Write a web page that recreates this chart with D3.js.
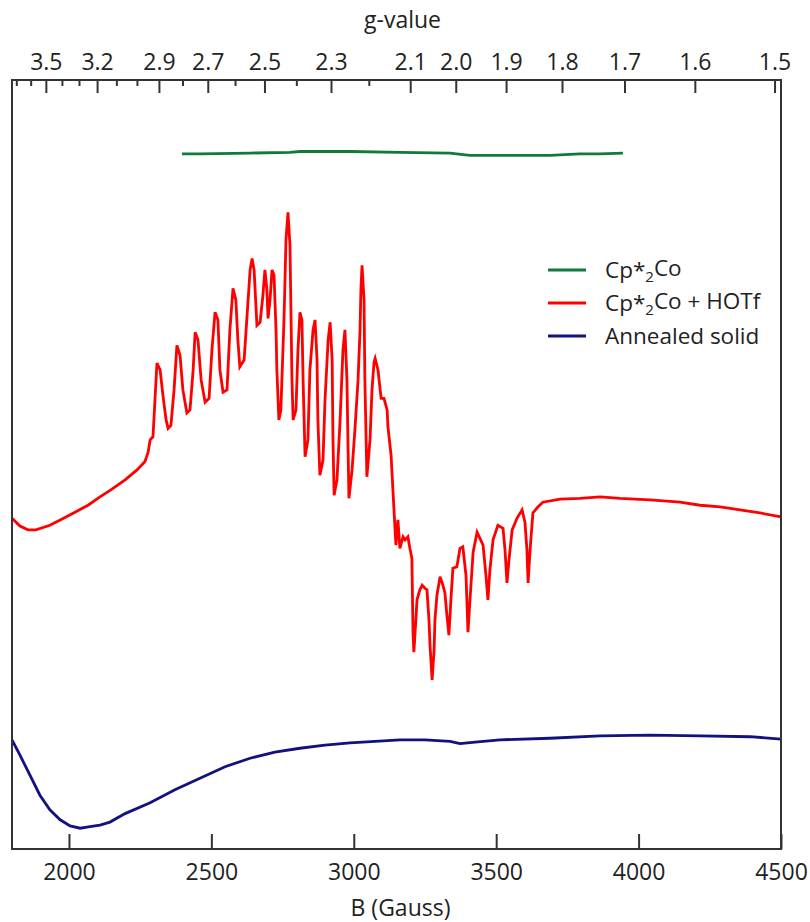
<!DOCTYPE html>
<html>
<head>
<meta charset="utf-8">
<script src="https://cdn.jsdelivr.net/npm/d3@7"></script>
<style>
    body { margin: 0; background: #fff; }
    text { font-family: "Open Sans", "Noto Sans", sans-serif; fill: #222; }
</style>
</head>
<body>
<svg id="chart" width="810" height="922"></svg>
<script>
// field in Gauss, intensity in arbitrary units (0..1000)
const fieldRange = [1800, 4500];
const bTicks = [2000, 2500, 3000, 3500, 4000, 4500];

// g = h*nu / (muB * B), X-band ~9.40 GHz -> g*B ~ 6716 G
const gTimesB = 6716;
const gMajor = [3.5, 3.2, 2.9, 2.7, 2.5, 2.3, 2.1, 2.0, 1.9, 1.8, 1.7, 1.6, 1.5];
const gMinor = [3.7, 3.6, 3.4, 3.3, 3.1, 3.0, 2.8, 2.6, 2.4, 2.2];

const seriesNames = ["Cp*₂Co", "Cp*₂Co + HOTf", "Annealed solid"];

const cpCoField = [2397, 2460, 2636, 2776, 2811, 2987, 3162, 3338, 3408, 3513, 3689, 3794, 3865, 3945];
const cpCoSignal = [904, 904, 905, 906, 907, 907, 906, 905, 902, 902, 902, 904, 904, 905];

const hotfField = [
    1800, 1828, 1856, 1884, 1933, 1976, 2021, 2067, 2109, 2151, 2197, 2239, 2267, 2278, 2285, 2295,
    2302, 2309, 2320, 2330, 2341, 2348, 2358, 2369, 2379, 2390, 2400, 2414, 2425, 2436, 2443, 2453,
    2464, 2478, 2492, 2502, 2513, 2523, 2530, 2541, 2555, 2565, 2576, 2586, 2593, 2600, 2615, 2629,
    2636, 2643, 2650, 2660, 2671, 2681, 2688, 2695, 2699, 2706, 2713, 2720, 2727, 2730, 2737, 2744,
    2755, 2762, 2769, 2776, 2783, 2787, 2797, 2804, 2811, 2818, 2822, 2829, 2839, 2846, 2857, 2864,
    2871, 2874, 2881, 2892, 2899, 2910, 2917, 2924, 2927, 2931, 2941, 2952, 2962, 2969, 2976, 2980,
    2983, 2994, 3004, 3015, 3022, 3025, 3029, 3036, 3039, 3046, 3057, 3064, 3071, 3075, 3085, 3096,
    3106, 3117, 3120, 3131, 3138, 3145, 3148, 3155, 3162, 3173, 3180, 3190, 3197, 3204, 3208, 3211,
    3218, 3222, 3232, 3240, 3250, 3257, 3264, 3268, 3275, 3282, 3285, 3292, 3303, 3313, 3320, 3327,
    3334, 3341, 3348, 3362, 3373, 3383, 3394, 3401, 3408, 3419, 3433, 3443, 3454, 3464, 3471, 3478,
    3489, 3506, 3524, 3531, 3538, 3545, 3556, 3573, 3591, 3601, 3608, 3612, 3619, 3629, 3647, 3664,
    3724, 3794, 3865, 3935, 4040, 4145, 4216, 4286, 4356, 4426, 4500
];
const hotfSignal = [
    430, 420, 415, 415, 421, 429, 438, 447, 458, 468, 480, 493, 504, 516, 532, 536,
    584, 632, 623, 590, 558, 547, 551, 597, 655, 642, 597, 567, 571, 623, 672, 662,
    610, 581, 586, 649, 698, 688, 623, 594, 597, 675, 729, 714, 662, 627, 636, 714,
    753, 768, 753, 681, 685, 720, 753, 727, 690, 714, 753, 746, 675, 623, 558, 571,
    688, 792, 828, 785, 610, 558, 571, 649, 698, 688, 610, 510, 532, 623, 675, 688,
    636, 558, 486, 506, 584, 662, 685, 636, 532, 460, 480, 558, 649, 675, 610, 519,
    456, 493, 545, 610, 675, 727, 759, 714, 610, 484, 532, 597, 633, 638, 623, 586,
    586, 571, 549, 512, 463, 415, 395, 428, 391, 406, 402, 406, 391, 378, 281, 256,
    298, 324, 337, 343, 339, 337, 298, 263, 220, 259, 298, 330, 354, 343, 333, 304,
    278, 324, 365, 367, 391, 393, 356, 282, 324, 386, 412, 404, 395, 356, 324, 363,
    402, 421, 417, 389, 346, 376, 415, 430, 441, 425, 389, 346, 389, 437, 445, 451,
    455, 456, 458, 456, 454, 451, 447, 445, 441, 437, 432
];

const annealedField = [
    1800, 1828, 1863, 1898, 1933, 1969, 2004, 2039, 2074, 2109, 2144, 2197, 2285, 2372, 2460, 2548,
    2636, 2723, 2811, 2899, 2987, 3075, 3162, 3250, 3338, 3373, 3426, 3513, 3689, 3865, 4040, 4216,
    4391, 4500
];
const annealedSignal = [
    142, 122, 96, 70, 51, 38, 30, 27, 29, 31, 35, 46, 60, 77, 92, 107,
    118, 126, 131, 135, 138, 140, 142, 142, 140, 137, 139, 142, 144, 147, 148, 147,
    146, 143
];

const seriesColors = ["#0e7a3c", "#ff0000", "#12127f"];

const margin = {top: 80, right: 29, bottom: 73, left: 12};
const width = 810 - margin.left - margin.right;
const height = 922 - margin.top - margin.bottom;

const svg = d3.select("#chart");
const plot = svg.append("g").attr("transform", `translate(${margin.left},${margin.top})`);

const x = d3.scaleLinear().domain(fieldRange).range([0, width]);
const y = d3.scaleLinear().domain([0, 1000]).range([height, 0]);

function zipSeries(fields, signals) {
    return fields.map((b, i) => ({b: b, v: signals[i]}));
}

const series = [
    zipSeries(cpCoField, cpCoSignal),
    zipSeries(hotfField, hotfSignal),
    zipSeries(annealedField, annealedSignal)
];

const line = d3.line().x(d => x(d.b)).y(d => y(d.v));

plot.selectAll("path.trace").data(series).join("path")
    .attr("class", "trace")
    .attr("d", line)
    .attr("fill", "none")
    .attr("stroke", (d, i) => seriesColors[i])
    .attr("stroke-width", 2.8)
    .attr("stroke-linejoin", "miter");

/**
 * axes
 */
function styleAxis(g) {
    g.select(".domain").remove();
    g.selectAll(".tick line").attr("stroke", "#333").attr("stroke-width", 2);
    g.selectAll(".tick text").style("font-size", "23px").attr("fill", "#222");
}

plot.append("g")
    .attr("transform", `translate(0,${height})`)
    .call(d3.axisBottom(x).tickValues(bTicks).tickSize(-15).tickPadding(15).tickFormat(d3.format("d")))
    .call(styleAxis);

// top axis: g-values placed at their resonance field
plot.append("g")
    .call(d3.axisTop(x).tickValues(gMinor.map(g => gTimesB / g)).tickSize(-6).tickFormat(""))
    .call(styleAxis);

plot.append("g")
    .call(d3.axisTop(x).tickValues(gMajor.map(g => gTimesB / g)).tickSize(-13).tickPadding(10)
        .tickFormat(d => d3.format(".1f")(gTimesB / d)))
    .call(styleAxis);

plot.append("rect")
    .attr("width", width).attr("height", height)
    .attr("fill", "none").attr("stroke", "#333").attr("stroke-width", 2);

svg.append("text").text("B (Gauss)")
    .attr("x", margin.left + width / 2 + 4).attr("y", 916)
    .attr("text-anchor", "middle").style("font-size", "23px");

svg.append("text").text("g-value")
    .attr("x", margin.left + width / 2 + 6).attr("y", 28)
    .attr("text-anchor", "middle").style("font-size", "23px");

/**
 * legend
 */
const legend = svg.append("g").attr("transform", "translate(548,270)");
const rowGap = 33;

seriesNames.forEach((name, i) => {
    let row = legend.append("g").attr("transform", `translate(0,${i * rowGap})`);
    row.append("line").attr("x1", 0).attr("x2", 38)
        .attr("stroke", seriesColors[i]).attr("stroke-width", 3);
    let label = row.append("text").attr("x", 57).attr("dy", "0.35em").style("font-size", "22.5px");
    // render the subscript 2 as a shifted tspan
    let parts = name.split("₂");
    label.append("tspan").text(parts[0]);
    if (parts.length > 1) {
        label.append("tspan").text("2").attr("dy", "0.3em").style("font-size", "15px");
        label.append("tspan").text(parts[1]).attr("dy", "-0.3em");
    }
});
</script>
</body>
</html>
